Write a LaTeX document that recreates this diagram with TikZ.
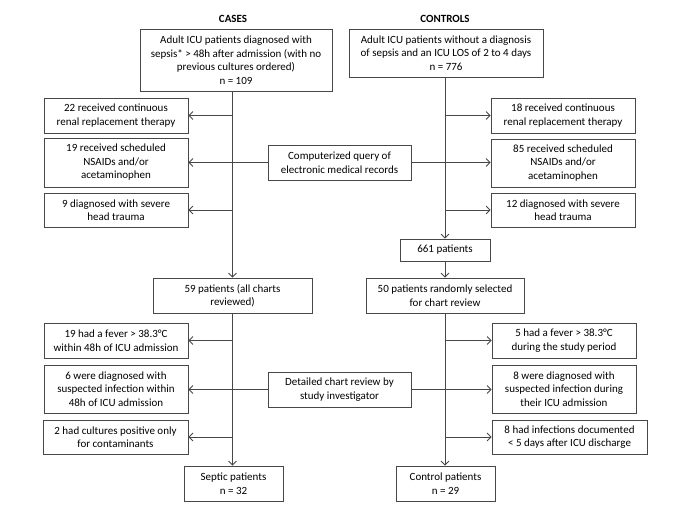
\documentclass[tikz,border=0pt]{standalone}
\usepackage{fontspec}
\setmainfont{Carlito}
\usetikzlibrary{arrows.meta}
\begin{document}
\begin{tikzpicture}[x=1pt,y=-1pt,
 box/.style={draw=black!72, line width=0.8pt, align=center, inner sep=0pt, font=\fontsize{11}{13.5}\selectfont},
 conn/.style={draw=black!72, line width=0.8pt},
 arr/.style={conn, -{Straight Barb[length=4pt,width=8pt]}},
 ttl/.style={font=\fontsize{11}{13.5}\selectfont\bfseries}]
\useasboundingbox (0,0) rectangle (685,513);
% titles
\node[ttl] (tc) at (233,19) {CASES};
\node[ttl] (tk) at (445,19) {CONTROLS};
% top boxes
\node[box, minimum width=192pt, minimum height=62pt] (c0) at (236,60) {Adult ICU patients diagnosed with\\sepsis* > 48h after admission (with no\\previous cultures ordered)\\n = 109};
\node[box, minimum width=194pt, minimum height=48pt] (k0) at (446,53) {Adult ICU patients without a diagnosis\\of sepsis and an ICU LOS of 2 to 4 days\\n = 776};
% left exclusion boxes (query)
\node[box, minimum width=144pt, minimum height=35pt] (L1) at (116,115.5) {22 received continuous\\renal replacement therapy};
\node[box, minimum width=144pt, minimum height=49pt] (L2) at (116,162.5) {19 received scheduled\\NSAIDs and/or\\acetaminophen};
\node[box, minimum width=144pt, minimum height=34pt] (L3) at (116,210) {9 diagnosed with severe\\head trauma};
% right exclusion boxes (query)
\node[box, minimum width=144pt, minimum height=35pt] (R1) at (563,115.5) {18 received continuous\\renal replacement therapy};
\node[box, minimum width=144pt, minimum height=48pt] (R2) at (563,163) {85 received scheduled\\NSAIDs and/or\\acetaminophen};
\node[box, minimum width=144pt, minimum height=34pt] (R3) at (563,210) {12 diagnosed with severe\\head trauma};
% query box
\node[box, minimum width=143pt, minimum height=35pt] (Q) at (339.5,162.5) {Computerized query of\\electronic medical records};
% middle boxes
\node[box, minimum width=90pt, minimum height=22pt] (P) at (445,250) {661 patients};
\node[box, minimum width=159pt, minimum height=35pt] (L59) at (232.5,295.5) {59 patients (all charts\\reviewed)};
\node[box, minimum width=158pt, minimum height=35pt] (R50) at (445,295.5) {50 patients randomly selected\\for chart review};
% left exclusion boxes (chart review)
\node[box, minimum width=144pt, minimum height=35pt] (LA) at (116,340.5) {19 had a fever > 38.3°C\\within 48h of ICU admission};
\node[box, minimum width=144pt, minimum height=48pt] (LB) at (116,389) {6 were diagnosed with\\suspected infection within\\48h of ICU admission};
\node[box, minimum width=145pt, minimum height=34pt] (LC) at (115.5,437) {2 had cultures positive only\\for contaminants};
% right exclusion boxes (chart review)
\node[box, minimum width=144pt, minimum height=35pt] (RA) at (564,340.5) {5 had a fever > 38.3°C\\during the study period};
\node[box, minimum width=144pt, minimum height=48pt] (RB) at (564,389) {8 were diagnosed with\\suspected infection during\\their ICU admission};
\node[box, minimum width=155pt, minimum height=34pt] (RC) at (569.5,437) {8 had infections documented\\< 5 days after ICU discharge};
% review box
\node[box, minimum width=143pt, minimum height=35pt] (D) at (339.5,389.5) {Detailed chart review by\\study investigator};
% final boxes
\node[box, minimum width=99pt, minimum height=35pt] (S) at (233.5,483.5) {Septic patients\\n = 32};
\node[box, minimum width=99pt, minimum height=35pt] (CP) at (445.5,483.5) {Control patients\\n = 29};
% main flow lines
\draw[arr] (c0.south -| L59.north) -- (L59.north);
\draw[arr] (L59.south) -- (L59.south |- S.north);
\draw[arr] (k0.south -| P.north) -- (P.north);
\draw[arr] (P.south) -- (R50.north);
\draw[arr] (R50.south) -- (R50.south |- CP.north);
% exclusions from main lines
\draw[arr] (L1.east -| L59.north) -- (L1.east);
\draw[arr] (L3.east -| L59.north) -- (L3.east);
\draw[arr] (R1.west -| P.north) -- (R1.west);
\draw[arr] (R3.west -| P.north) -- (R3.west);
\draw[arr] (LA.east -| L59.south) -- (LA.east);
\draw[arr] (LC.east -| L59.south) -- (LC.east);
\draw[arr] (RA.west -| R50.south) -- (RA.west);
\draw[arr] (RC.west -| R50.south) -- (RC.west);
% query / review connectors
\draw[arr] (Q.west) -- (Q.west -| L2.east);
\draw[arr] (Q.east) -- (Q.east -| R2.west);
\draw[arr] (D.west) -- (D.west -| LB.east);
\draw[arr] (D.east) -- (D.east -| RB.west);
\end{tikzpicture}
\end{document}
